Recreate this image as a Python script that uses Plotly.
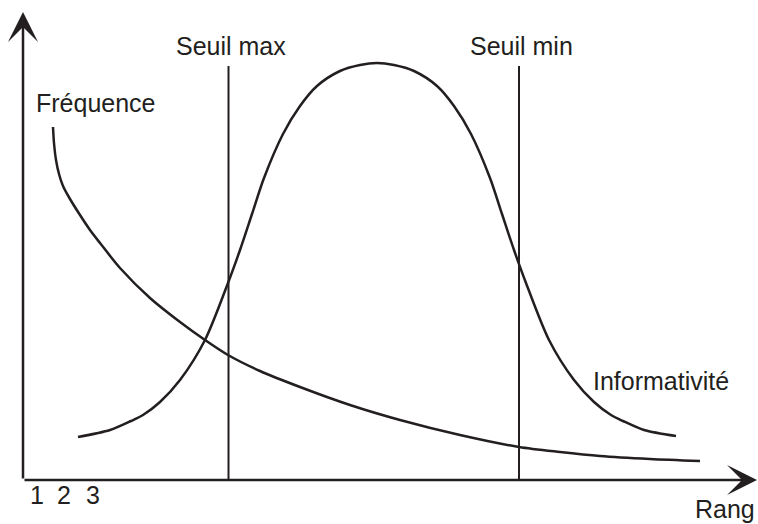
import plotly.graph_objects as go

# Schematic units: x = rank axis (arbitrary units), y = value axis (arbitrary units)
freq_x = [30, 31, 33, 36, 40, 47, 57, 67, 77, 97, 127, 157, 182, 205, 237, 277, 327, 377,
          437, 496, 537, 577, 627, 677]
freq_y = [353, 337, 320, 306, 294, 281, 265, 250, 237, 212, 182, 158, 140, 125, 109, 93, 75, 60,
          45, 33, 28, 24, 21, 19]

info_x = [55, 87, 108, 120, 137, 157, 182, 205, 217, 229, 241, 260, 277, 294, 317, 337, 354,
          371, 391, 414, 431, 448, 467, 479, 491, 503, 526, 551, 571, 588, 600, 621, 653]
info_y = [43, 50, 59, 65, 78, 100, 140, 197, 230, 266, 302, 346, 374, 394, 409, 415, 417,
          415, 409, 394, 374, 346, 302, 266, 230, 197, 140, 100, 78, 65, 59, 50, 44]

seuil_names = ["Seuil max", "Seuil min"]
seuil_x = [205.5, 496]
seuil_top = 414

rank_labels = ["1", "2", "3"]
rank_pos = [14, 41, 70]

x_axis_end = 734
y_axis_end = 468

INK = "#231f20"
FONT = "Liberation Sans, Arial, Helvetica, sans-serif"

fig = go.Figure()

fig.add_trace(go.Scatter(x=freq_x, y=freq_y, mode="lines",
                         line=dict(color=INK, width=2.5, shape="spline", smoothing=0.8),
                         hoverinfo="skip", showlegend=False))
fig.add_trace(go.Scatter(x=info_x, y=info_y, mode="lines",
                         line=dict(color=INK, width=2.5, shape="spline", smoothing=0.8),
                         hoverinfo="skip", showlegend=False))

for sx in seuil_x:
    fig.add_trace(go.Scatter(x=[sx, sx], y=[0, seuil_top], mode="lines",
                             line=dict(color=INK, width=2),
                             hoverinfo="skip", showlegend=False))

annotations = []
# axes arrows
for tip_x, tip_y in [(x_axis_end, 0), (0, y_axis_end)]:
    annotations.append(dict(x=tip_x, y=tip_y, ax=0, ay=0, xref="x", yref="y",
                            axref="x", ayref="y",
                            showarrow=True, arrowhead=3, arrowsize=2, arrowwidth=2.5,
                            arrowcolor=INK, text="", standoff=0))

font = dict(family=FONT, size=25, color=INK)
for name, sx in zip(seuil_names, seuil_x):
    annotations.append(dict(x=sx + 2, y=434, xref="x", yref="y", text=name, showarrow=False,
                            xanchor="center", yanchor="middle", font=font))

annotations.append(dict(x=11, y=377, xref="x", yref="y", text="Fréquence", showarrow=False,
                        xanchor="left", yanchor="middle", font=font))
annotations.append(dict(x=568, y=99, xref="x", yref="y", text="Informativité", showarrow=False,
                        xanchor="left", yanchor="middle", font=font))
annotations.append(dict(x=670, y=-29, xref="x", yref="y", text="Rang", showarrow=False,
                        xanchor="left", yanchor="middle", font=font))
for lab, px in zip(rank_labels, rank_pos):
    annotations.append(dict(x=px, y=-15, xref="x", yref="y", text=lab, showarrow=False,
                            xanchor="center", yanchor="middle", font=font))

fig.update_layout(
    width=758, height=524,
    margin=dict(l=0, r=0, t=0, b=0),
    paper_bgcolor="white", plot_bgcolor="white",
    xaxis=dict(range=[-23, 735], visible=False, fixedrange=True),
    yaxis=dict(range=[-44, 480], visible=False, fixedrange=True),
    annotations=annotations,
    showlegend=False,
)

fig.write_html("out.html", config={"displayModeBar": False},
               post_script="document.body.style.margin='0';document.body.style.overflow='hidden';")
